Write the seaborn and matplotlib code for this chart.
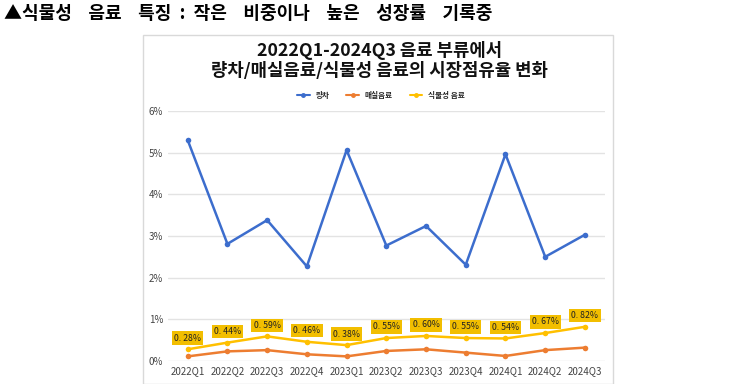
import pandas as pd
import matplotlib
matplotlib.use('Agg')
import matplotlib.pyplot as plt
from matplotlib.patches import Rectangle
from matplotlib.lines import Line2D
from matplotlib.ticker import FuncFormatter
import seaborn as sns

sns.set_style('white')
plt.rcParams['font.family'] = ['Noto Sans CJK KR', 'DejaVu Sans']

# data
quarters = ['2022Q1', '2022Q2', '2022Q3', '2022Q4', '2023Q1', '2023Q2',
            '2023Q3', '2023Q4', '2024Q1', '2024Q2', '2024Q3']
tea = [5.30, 2.81, 3.38, 2.27, 5.06, 2.77, 3.24, 2.31, 4.96, 2.50, 3.03]
plum = [0.11, 0.23, 0.26, 0.16, 0.11, 0.24, 0.28, 0.20, 0.12, 0.26, 0.32]
plant = [0.28, 0.44, 0.59, 0.46, 0.38, 0.55, 0.60, 0.55, 0.54, 0.67, 0.82]
series_names = ['량차', '매실음료', '식물성 음료']
colors = ['#3C6DCD', '#ED7D31', '#FFC000']

df = pd.DataFrame({
    'quarter': quarters * 3,
    'idx': list(range(len(quarters))) * 3,
    'share': tea + plum + plant,
    'series': [series_names[0]] * 11 + [series_names[1]] * 11 + [series_names[2]] * 11,
})

fig = plt.figure(figsize=(7.56, 3.84), dpi=100)
ax = fig.add_axes([0.222, 0.060, 0.578, 0.651])

sns.lineplot(data=df, x='idx', y='share', hue='series', palette=colors,
             marker='o', markersize=4, markeredgewidth=0, linewidth=1.8,
             legend=False, ax=ax)

# value labels for plant-based drinks
for i, v in enumerate(plant):
    ax.annotate(f'{v:.2f}%'.replace('.', '. '), (i, v), xytext=(0, 8),
                textcoords='offset points', ha='center', va='center',
                fontsize=6.3, color='#222222',
                bbox=dict(boxstyle='square,pad=0.25', fc='#F2BE00', ec='none'))

ax.set_xlim(-0.5, 10.5)
ax.set_ylim(0, 6)
ax.set_yticks([0, 1, 2, 3, 4, 5, 6])
ax.yaxis.set_major_formatter(FuncFormatter(lambda v, p: f'{v:.0f}%'))
ax.set_xticks(range(len(quarters)))
ax.set_xticklabels(quarters)
ax.tick_params(axis='both', labelsize=7, colors='#444444', length=0)
ax.grid(axis='y', color='#e3e3e3', linewidth=1)
ax.set_axisbelow(True)
for s in ax.spines.values():
    s.set_visible(False)
ax.set_xlabel('')
ax.set_ylabel('')

# chart frame
fig.patches.append(Rectangle((143 / 756, 0.0), 470 / 756, 1 - 35 / 384,
                             transform=fig.transFigure, fill=False,
                             edgecolor='#d9d9d9', linewidth=1))

fig.text(0.005, 0.965, '▲식물성    음료    특징  :  작은    비중이나    높은    성장률    기록중',
         fontsize=13, fontweight='bold', ha='left', va='center', color='black')
fig.text(0.502, 0.842, '2022Q1-2024Q3 음료 부류에서\n량차/매실음료/식물성 음료의 시장점유율 변화',
         fontsize=12.8, fontweight='bold', ha='center', va='center',
         linespacing=1.1, color='#111111')

handles = [Line2D([0], [0], color=c, marker='o', markersize=2.5, linewidth=1.5)
           for c in colors]
fig.legend(handles, series_names, loc='center', bbox_to_anchor=(0.504, 0.752),
           ncol=3, frameon=False, prop={'size': 5.5, 'weight': 'bold'},
           handlelength=1.6, columnspacing=2.2, handletextpad=0.8)

fig.savefig('out.png', dpi=100)
